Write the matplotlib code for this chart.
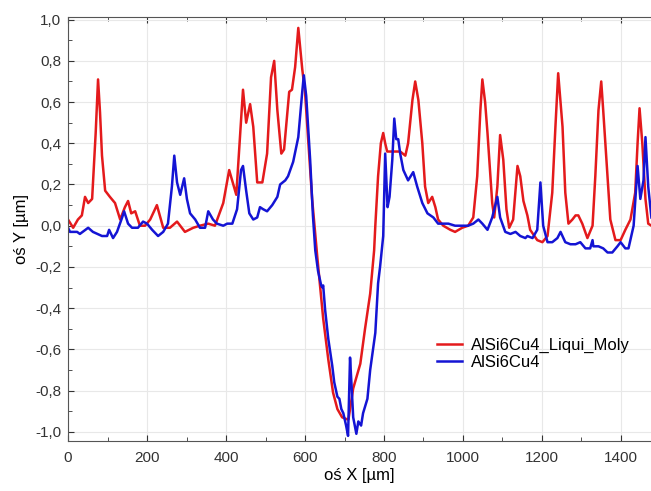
import matplotlib
matplotlib.use('Agg')
import matplotlib.pyplot as plt
from matplotlib.ticker import MultipleLocator, FuncFormatter

plt.rcParams['font.family'] = ['Liberation Sans', 'DejaVu Sans']

# AlSi6Cu4_Liqui_Moly profile
red_x = [0, 13, 25, 35, 43, 51, 61, 70, 76, 81, 86, 94, 106, 119, 132, 144, 152, 160, 170, 182, 195, 208,
         225, 241, 258, 276, 296, 317, 334, 355, 372, 393, 408, 426, 443, 451, 461, 469, 479, 492, 504, 514,
         522, 530, 540, 547, 560, 567, 575, 583, 593, 600, 618, 631, 646, 659, 671, 682, 694, 707, 710, 722,
         740, 752, 765, 775, 778, 785, 792, 798, 803, 808, 841, 854, 861, 872, 879, 887, 897, 904, 912, 922,
         930, 937, 950, 968, 980, 998, 1013, 1026, 1036, 1044, 1049, 1056, 1062, 1074, 1079, 1087, 1094, 1102, 1110, 1117,
         1127, 1138, 1145, 1153, 1163, 1170, 1188, 1201, 1214, 1226, 1234, 1241, 1252, 1259, 1267, 1277, 1285, 1292, 1302, 1315,
         1328, 1335, 1343, 1350, 1355, 1366, 1373, 1386, 1399, 1411, 1424, 1436, 1442, 1447, 1454, 1462, 1469, 1477]
red_y = [0.03, -0.01, 0.03, 0.05, 0.14, 0.11, 0.13, 0.45, 0.71, 0.55, 0.34, 0.17, 0.14, 0.11, 0.03, 0.09, 0.12, 0.06, 0.07, 0.0, 0.0, 0.03,
         0.10, -0.01, -0.01, 0.02, -0.03, -0.01, 0.0, 0.01, 0.0, 0.11, 0.27, 0.15, 0.66, 0.50, 0.59, 0.48, 0.21, 0.21, 0.35, 0.72,
         0.80, 0.56, 0.35, 0.37, 0.65, 0.66, 0.77, 0.96, 0.76, 0.65, 0.13, -0.15, -0.45, -0.65, -0.81, -0.89, -0.93, -0.94, -0.94, -0.79,
         -0.67, -0.50, -0.33, -0.12, 0.0, 0.24, 0.40, 0.45, 0.40, 0.36, 0.36, 0.34, 0.40, 0.61, 0.70, 0.61, 0.40, 0.19, 0.11, 0.14,
         0.09, 0.03, 0.0, -0.02, -0.03, -0.01, 0.0, 0.04, 0.24, 0.56, 0.71, 0.60, 0.45, 0.11, 0.04, 0.19, 0.44, 0.32, 0.08, -0.01,
         0.03, 0.29, 0.24, 0.12, 0.05, -0.02, -0.07, -0.08, -0.05, 0.16, 0.48, 0.74, 0.48, 0.16, 0.01, 0.03, 0.05, 0.05, 0.01, -0.06,
         0.0, 0.24, 0.56, 0.70, 0.56, 0.24, 0.03, -0.07, -0.07, -0.02, 0.03, 0.16, 0.40, 0.57, 0.40, 0.13, 0.01, 0.0]

# AlSi6Cu4 profile
blue_x = [0, 5, 18, 23, 30, 51, 63, 86, 99, 104, 114, 124, 137, 142, 152, 162, 177, 190, 200, 213,
          228, 241, 253, 263, 269, 276, 284, 294, 301, 309, 322, 334, 347, 355, 367, 377, 393, 403, 416, 428,
          438, 443, 451, 459, 469, 479, 486, 494, 504, 517, 530, 537, 550, 557, 570, 583, 593, 597, 603, 613,
          620, 626, 633, 641, 644, 646, 651, 659, 669, 674, 682, 687, 692, 697, 704, 709, 714, 718, 722, 730,
          735, 742, 747, 758, 765, 778, 785, 790, 798, 803, 809, 814, 821, 826, 831, 836, 841, 849, 861, 874,
          884, 897, 910, 925, 937, 950, 963, 980, 998, 1013, 1026, 1039, 1049, 1062, 1074, 1087, 1094, 1107, 1120, 1133,
          1145, 1158, 1163, 1176, 1188, 1196, 1203, 1214, 1226, 1239, 1247, 1259, 1272, 1285, 1297, 1310, 1322, 1328, 1330, 1343,
          1355, 1366, 1378, 1391, 1399, 1411, 1419, 1432, 1442, 1449, 1457, 1462, 1469, 1477]
blue_y = [-0.01, -0.03, -0.03, -0.03, -0.04, -0.01, -0.03, -0.05, -0.05, -0.02, -0.06, -0.03, 0.04, 0.07, 0.01, -0.01, -0.01, 0.02, 0.01, -0.02,
          -0.05, -0.03, 0.01, 0.19, 0.34, 0.21, 0.15, 0.23, 0.13, 0.06, 0.03, -0.01, -0.01, 0.07, 0.03, 0.01, 0.0, 0.01, 0.01, 0.08,
          0.27, 0.29, 0.17, 0.06, 0.03, 0.04, 0.09, 0.08, 0.07, 0.10, 0.14, 0.20, 0.22, 0.24, 0.31, 0.43, 0.65, 0.73, 0.63, 0.32,
          0.05, -0.12, -0.22, -0.29, -0.30, -0.29, -0.41, -0.55, -0.68, -0.76, -0.83, -0.84, -0.89, -0.91, -0.97, -1.02, -0.64, -0.78, -0.93, -1.01,
          -0.95, -0.97, -0.91, -0.84, -0.70, -0.52, -0.28, -0.20, -0.05, 0.35, 0.09, 0.14, 0.32, 0.52, 0.42, 0.42, 0.35, 0.27, 0.22, 0.26,
          0.19, 0.11, 0.06, 0.04, 0.01, 0.01, 0.01, 0.0, 0.0, 0.0, 0.01, 0.03, 0.01, -0.02, 0.04, 0.14, 0.04, -0.03, -0.04, -0.03,
          -0.05, -0.06, -0.05, -0.06, -0.02, 0.21, 0.0, -0.08, -0.08, -0.06, -0.03, -0.08, -0.09, -0.09, -0.08, -0.11, -0.11, -0.07, -0.10, -0.10,
          -0.11, -0.13, -0.13, -0.10, -0.08, -0.11, -0.11, 0.0, 0.29, 0.13, 0.22, 0.43, 0.19, 0.04]

fig = plt.figure(figsize=(6.51, 4.91), dpi=100)
ax = fig.add_axes([0.1045, 0.1018, 0.8955, 0.8636])

ax.plot(red_x, red_y, color='#e41a1c', lw=1.8, label='AlSi6Cu4_Liqui_Moly')
ax.plot(blue_x, blue_y, color='#1414d4', lw=1.8, label='AlSi6Cu4')

ax.set_xlim(0, 1476)
ax.set_ylim(-1.045, 1.013)
ax.xaxis.set_major_locator(MultipleLocator(200))
ax.xaxis.set_minor_locator(MultipleLocator(100))
ax.yaxis.set_major_locator(MultipleLocator(0.2))
ax.yaxis.set_minor_locator(MultipleLocator(0.1))
ax.yaxis.set_major_formatter(FuncFormatter(lambda v, p: f'{v:.1f}'.replace('.', ',').replace('-0,0', '0,0')))

ax.grid(True, which='major', color='#e8e8e8', lw=0.8)
ax.tick_params(which='both', direction='in', top=True, right=False, labelsize=11, colors='#333333')
ax.tick_params(which='major', length=4)
ax.tick_params(which='minor', length=3)
ax.tick_params(axis='x', which='major', pad=7)
ax.tick_params(axis='y', which='major', pad=5)
for s in ['left', 'bottom', 'top']:
    ax.spines[s].set_color('#555555')
ax.spines['right'].set_visible(False)

ax.set_xlabel('oś X [µm]', fontsize=12, labelpad=2)
ax.set_ylabel('oś Y [µm]', fontsize=12, labelpad=4)

ax.legend(loc='center left', bbox_to_anchor=(0.622, 0.205), frameon=False, fontsize=12,
          handlelength=1.5, handletextpad=0.5, labelspacing=0.12, borderaxespad=0)

fig.savefig('out.png', dpi=100)
